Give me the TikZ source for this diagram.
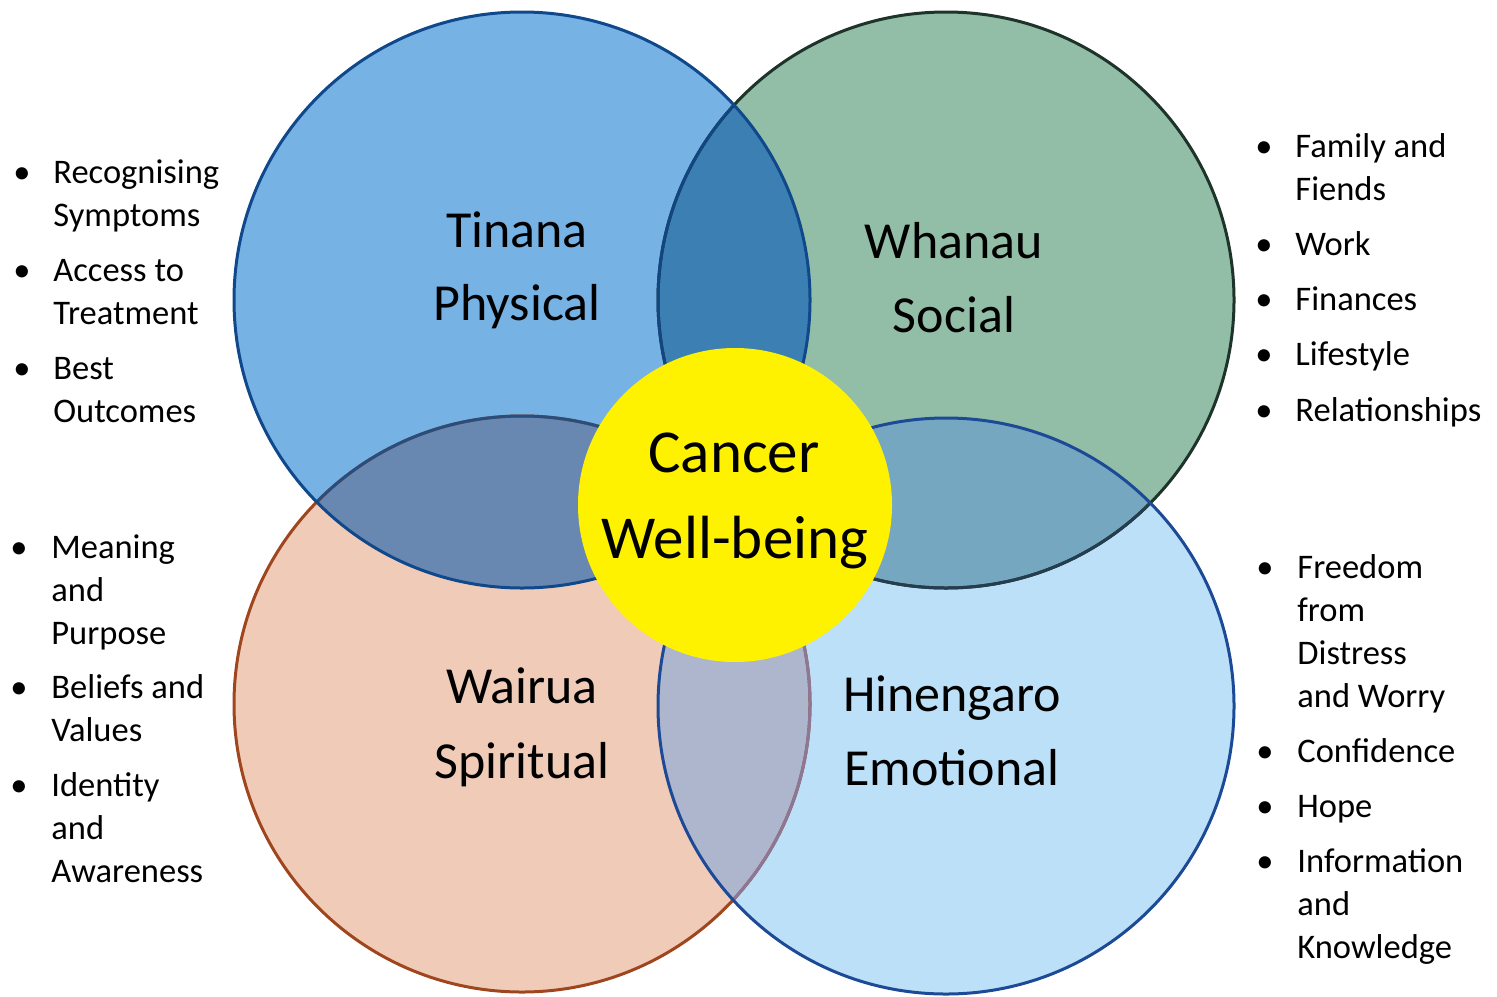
\documentclass[tikz,border=0pt]{standalone}
\usepackage{fontspec}
\setmainfont{Carlito}
\definecolor{fTL}{RGB}{118,178,228}
\definecolor{fTR}{RGB}{146,190,168}
\definecolor{fBL}{RGB}{240,204,184}
\definecolor{fBR}{RGB}{188,224,248}
\definecolor{lTLTR}{RGB}{60,127,178}
\definecolor{lTLBL}{RGB}{104,136,178}
\definecolor{lTRBR}{RGB}{118,167,192}
\definecolor{lBLBR}{RGB}{174,182,206}
\definecolor{bTL}{RGB}{16,72,140}
\definecolor{bTR}{RGB}{30,52,42}
\definecolor{bBL}{RGB}{160,70,30}
\definecolor{bBR}{RGB}{28,74,150}
\definecolor{tTRinTL}{RGB}{18,70,130}
\definecolor{tBLinTL}{RGB}{40,78,128}
\definecolor{tTRinBR}{RGB}{36,62,80}
\definecolor{tBLinBR}{RGB}{140,120,150}
\definecolor{yel}{RGB}{255,242,0}
\begin{document}
\begin{tikzpicture}[x=0.5pt,y=-0.5pt,
  ring/.style={line width=1.5pt},
  lbl/.style={font=\fontsize{26}{30}\selectfont, anchor=base, inner sep=0pt},
  ctr/.style={font=\fontsize{30.5}{36}\selectfont, anchor=base, inner sep=0pt},
  itm/.style={font=\fontsize{17.25}{21}\selectfont, anchor=base west, inner sep=0pt},
  bul/.style={font=\fontsize{17.25}{21}\selectfont, anchor=base, inner sep=0pt}]
\useasboundingbox (0,0) rectangle (1497,996);
\coordinate (pTL) at (522,300);
\coordinate (pTR) at (946,300);
\coordinate (pBL) at (522,704);
\coordinate (pBR) at (946,706);
% fills
\fill[fTR] (pTR) circle[radius=144pt];
\fill[fBL] (pBL) circle[radius=144pt];
\fill[fTL] (pTL) circle[radius=144pt];
\fill[fBR] (pBR) circle[radius=144pt];
% lenses
\begin{scope}
  \clip (pTL) circle[radius=144pt];
  \fill[lTLTR] (pTR) circle[radius=144pt];
  \fill[lTLBL] (pBL) circle[radius=144pt];
\end{scope}
\begin{scope}
  \clip (pBR) circle[radius=144pt];
  \fill[lTRBR] (pTR) circle[radius=144pt];
  \fill[lBLBR] (pBL) circle[radius=144pt];
\end{scope}
% borders
\draw[ring,bTR] (pTR) circle[radius=144pt];
\draw[ring,bBL] (pBL) circle[radius=144pt];
\begin{scope}
  \clip (pTL) circle[radius=144pt];
  \draw[ring,tTRinTL] (pTR) circle[radius=144pt];
  \draw[ring,tBLinTL] (pBL) circle[radius=144pt];
\end{scope}
\begin{scope}
  \clip (pBR) circle[radius=144pt];
  \draw[ring,tTRinBR] (pTR) circle[radius=144pt];
  \draw[ring,tBLinBR] (pBL) circle[radius=144pt];
\end{scope}
\draw[ring,bTL] (pTL) circle[radius=144pt];
\draw[ring,bBR] (pBR) circle[radius=144pt];
% centre
\node[circle, fill=yel, minimum size=157pt, inner sep=0pt] (well) at (735,505) {};
\node[ctr] (c1) at (734,472) {Cancer};
\node[ctr] (c2) at (735,558) {Well-being};
% circle labels
\node[lbl] (tl1) at (517,247) {Tinana};
\node[lbl] (tl2) at (517,320) {Physical};
\node[lbl] (tr1) at (954,258) {Whanau};
\node[lbl] (tr2) at (954,332) {Social};
\node[lbl] (bl1) at (522,703) {Wairua};
\node[lbl] (bl2) at (522,778) {Spiritual};
\node[lbl] (br1) at (952,711) {Hinengaro};
\node[lbl] (br2) at (952,785) {Emotional};
% left top list
\node[bul] (b1) at (22,183) {•};
\node[itm] (t1a) at (53,183) {Recognising};
\node[itm] (t1b) at (53,226) {Symptoms};
\node[bul] (b2) at (22,281) {•};
\node[itm] (t2a) at (53,281) {Access to};
\node[itm] (t2b) at (53,324) {Treatment};
\node[bul] (b3) at (22,379) {•};
\node[itm] (t3a) at (53,379) {Best};
\node[itm] (t3b) at (53,422) {Outcomes};
% left bottom list
\node[bul] (b4) at (19,558) {•};
\node[itm] (t4a) at (51,558) {Meaning};
\node[itm] (t4b) at (51,601) {and};
\node[itm] (t4c) at (51,644) {Purpose};
\node[bul] (b5) at (19,698) {•};
\node[itm] (t5a) at (51,698) {Beliefs and};
\node[itm] (t5b) at (51,741) {Values};
\node[bul] (b6) at (19,796) {•};
\node[itm] (t6a) at (51,796) {Identity};
\node[itm] (t6b) at (51,839) {and};
\node[itm] (t6c) at (51,882) {Awareness};
% right top list
\node[bul] (b7) at (1264,157) {•};
\node[itm] (t7a) at (1295,157) {Family and};
\node[itm] (t7b) at (1295,200) {Fiends};
\node[bul] (b8) at (1264,255) {•};
\node[itm] (t8a) at (1295,255) {Work};
\node[bul] (b9) at (1264,310) {•};
\node[itm] (t9a) at (1295,310) {Finances};
\node[bul] (b10) at (1264,365) {•};
\node[itm] (t10a) at (1295,365) {Lifestyle};
\node[bul] (b11) at (1264,421) {•};
\node[itm] (t11a) at (1295,421) {Relationships};
% right bottom list
\node[bul] (b12) at (1265,578) {•};
\node[itm] (t12a) at (1297,578) {Freedom};
\node[itm] (t12b) at (1297,621) {from};
\node[itm] (t12c) at (1297,664) {Distress};
\node[itm] (t12d) at (1297,707) {and Worry};
\node[bul] (b13) at (1265,762) {•};
\node[itm] (t13a) at (1297,762) {Confidence};
\node[bul] (b14) at (1265,817) {•};
\node[itm] (t14a) at (1297,817) {Hope};
\node[bul] (b15) at (1265,872) {•};
\node[itm] (t15a) at (1297,872) {Information};
\node[itm] (t15b) at (1297,915) {and};
\node[itm] (t15c) at (1297,958) {Knowledge};
\end{tikzpicture}
\end{document}
